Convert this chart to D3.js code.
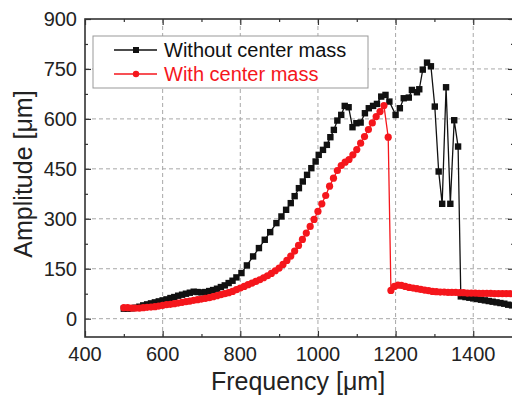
<!DOCTYPE html>
<html lang="en">
<head>
    <meta charset="UTF-8">
    <title>Amplitude vs Frequency</title>
    <script src="https://d3js.org/d3.v7.min.js"></script>
    <style>
        body { margin: 0; background: #fff; }
        svg { display: block; font-family: "Liberation Sans", Arial, sans-serif; }
        .grid line { stroke: #a8a8a8; stroke-dasharray: 4,3; stroke-width: 1; }
        .tick-label { font-size: 20px; fill: #222; }
        .title { font-size: 25px; fill: #222; }
    </style>
</head>
<body>
<svg width="512" height="401"></svg>
<script>
    // data
    const blackFreq = [500, 510, 520, 530, 540, 550, 560, 570, 580, 590, 600, 610, 620, 630, 640, 650, 660, 670, 680, 690,
        700, 710, 720, 730, 740, 750, 760, 770, 780, 790, 803, 817, 833, 848, 863, 877, 893, 906, 918, 930,
        940, 951, 961, 972, 983, 994, 1002, 1013, 1023, 1032, 1041, 1050, 1060, 1069, 1079, 1089, 1099, 1110, 1121, 1131,
        1142, 1152, 1163, 1174, 1184, 1200, 1211, 1221, 1234, 1242, 1255, 1261, 1270, 1281, 1291, 1301, 1311, 1320, 1330, 1341,
        1351, 1361, 1368, 1380, 1390, 1400, 1410, 1420, 1430, 1440, 1450, 1460, 1470, 1480, 1490, 1500];
    const blackAmp = [30, 30, 31, 33, 36, 40, 43, 46, 49, 52, 55, 58, 62, 65, 69, 72, 75, 78, 81, 80,
        79, 80, 83, 86, 90, 95, 100, 107, 114, 124, 137, 160, 187, 212, 237, 260, 287, 307, 327, 347,
        368, 392, 412, 432, 452, 472, 492, 507, 522, 545, 567, 595, 612, 639, 635, 575, 587, 589, 617, 632,
        639, 645, 667, 672, 652, 612, 632, 662, 664, 687, 680, 689, 748, 769, 758, 637, 442, 345, 695, 345,
        596, 517, 67, 65, 63, 61, 59, 57, 55, 53, 51, 49, 47, 45, 42, 40];

    const redFreq = [500, 510, 520, 530, 540, 550, 560, 570, 580, 590, 600, 610, 620, 630, 640, 650, 660, 670, 680, 690,
        700, 710, 720, 730, 740, 750, 760, 770, 780, 790, 800, 810, 820, 830, 840, 850, 860, 870, 880, 890,
        900, 910, 920, 930, 940, 950, 960, 970, 980, 990, 1000, 1010, 1020, 1030, 1040, 1050, 1060, 1070, 1080, 1090,
        1100, 1110, 1120, 1130, 1140, 1150, 1160, 1170, 1181, 1188, 1197, 1206, 1215, 1225, 1235, 1245, 1255, 1265, 1275, 1285,
        1295, 1305, 1315, 1325, 1335, 1345, 1355, 1365, 1375, 1385, 1395, 1405, 1415, 1425, 1435, 1445, 1455, 1465, 1475, 1485,
        1495, 1505];
    const redAmp = [33, 33, 32, 32, 32, 33, 34, 35, 36, 38, 40, 42, 43, 45, 47, 49, 51, 53, 55, 57,
        59, 61, 63, 66, 69, 72, 75, 78, 82, 87, 92, 97, 102, 107, 112, 117, 123, 129, 136, 144,
        152, 163, 175, 188, 203, 220, 238, 257, 277, 298, 322, 345, 370, 398, 422, 445, 460, 470, 478, 492,
        508, 527, 547, 568, 588, 607, 622, 640, 545, 85, 97, 101, 100, 97, 94, 92, 90, 88, 86, 84,
        82, 81, 80, 80, 79, 79, 79, 78, 78, 77, 77, 77, 76, 76, 76, 76, 75, 75, 75, 75,
        75, 74];

    const xTicks = [400, 600, 800, 1000, 1200, 1400];
    const yTicks = [0, 150, 300, 450, 600, 750, 900];
    const seriesNames = ["Without center mass", "With center mass"];

    const black = blackFreq.map((f, i) => ({ f: f, a: blackAmp[i] }));
    const red = redFreq.map((f, i) => ({ f: f, a: redAmp[i] }));

    const box = { left: 85, right: 514, top: 19, bottom: 337 };
    const redColor = "#f5161c";

    const x = d3.scaleLinear().domain([400, 1505]).range([box.left, box.right]);
    const y = d3.scaleLinear().domain([-55, 900]).range([box.bottom, box.top]);

    const svg = d3.select("svg");

    svg.append("clipPath").attr("id", "plot")
        .append("rect").attr("x", box.left).attr("y", box.top)
        .attr("width", box.right - box.left).attr("height", box.bottom - box.top);

    // dashed grid
    const grid = svg.append("g").attr("class", "grid");
    grid.selectAll(".gx").data(xTicks.filter(v => v > 400))
        .enter().append("line")
        .attr("x1", d => x(d)).attr("x2", d => x(d))
        .attr("y1", box.top).attr("y2", box.bottom);
    grid.selectAll(".gy").data(yTicks.filter(v => v < 900))
        .enter().append("line")
        .attr("x1", box.left).attr("x2", box.right)
        .attr("y1", d => y(d)).attr("y2", d => y(d));

    // axes, ticks pointing inwards on all four sides
    const xMinor = d3.range(500, 1500, 200);
    const yMinor = d3.range(-75, 900, 150).filter(v => v > -55);

    function axisPair(gen, scale, major, minor, pos) {
        svg.append("g").attr("transform", pos)
            .call(gen(scale).tickValues(major).tickSize(-6).tickFormat(""))
            .call(g => g.select(".domain").remove());
        svg.append("g").attr("transform", pos)
            .call(gen(scale).tickValues(minor).tickSize(-3).tickFormat(""))
            .call(g => g.select(".domain").remove());
    }
    axisPair(d3.axisBottom, x, xTicks, xMinor, `translate(0,${box.bottom})`);
    axisPair(d3.axisTop, x, xTicks, xMinor, `translate(0,${box.top})`);
    axisPair(d3.axisLeft, y, yTicks, yMinor, `translate(${box.left},0)`);
    axisPair(d3.axisRight, y, yTicks, yMinor, `translate(${box.right},0)`);
    svg.selectAll(".tick line").attr("stroke", "#333").attr("stroke-width", 1.2);

    svg.append("rect")
        .attr("x", box.left).attr("y", box.top)
        .attr("width", box.right - box.left).attr("height", box.bottom - box.top)
        .attr("fill", "none").attr("stroke", "#333").attr("stroke-width", 1.6);

    // tick labels
    svg.selectAll(".xl").data(xTicks).enter().append("text")
        .attr("class", "tick-label")
        .attr("x", d => x(d)).attr("y", 361)
        .attr("text-anchor", "middle")
        .text(d => d);
    svg.selectAll(".yl").data(yTicks).enter().append("text")
        .attr("class", "tick-label")
        .attr("x", 77).attr("y", d => y(d) + 7)
        .attr("text-anchor", "end")
        .text(d => d);

    // titles
    svg.append("text").attr("class", "title")
        .attr("x", 298).attr("y", 390)
        .attr("text-anchor", "middle")
        .text("Frequency [μm]");
    svg.append("text").attr("class", "title")
        .attr("transform", "translate(32,174) rotate(-90)")
        .attr("text-anchor", "middle")
        .text("Amplitude [μm]");

    // series
    const line = d3.line().x(d => x(d.f)).y(d => y(d.a));
    const plot = svg.append("g").attr("clip-path", "url(#plot)");

    plot.append("path").datum(black)
        .attr("d", line).attr("fill", "none")
        .attr("stroke", "#111").attr("stroke-width", 1.3);
    plot.selectAll(".sq").data(black).enter().append("rect")
        .attr("x", d => x(d.f) - 3.2).attr("y", d => y(d.a) - 3.2)
        .attr("width", 6.4).attr("height", 6.4)
        .attr("fill", "#111");

    plot.append("path").datum(red)
        .attr("d", line).attr("fill", "none")
        .attr("stroke", redColor).attr("stroke-width", 1.3);
    plot.selectAll(".ci").data(red).enter().append("circle")
        .attr("cx", d => x(d.f)).attr("cy", d => y(d.a))
        .attr("r", 3.6)
        .attr("fill", redColor);

    // legend
    const lg = svg.append("g");
    lg.append("rect")
        .attr("x", 93).attr("y", 36).attr("width", 275).attr("height", 52)
        .attr("fill", "#fff").attr("stroke", "#999").attr("stroke-width", 1);
    const rows = [
        { name: seriesNames[0], color: "#111", shape: "square", cy: 50 },
        { name: seriesNames[1], color: redColor, shape: "circle", cy: 74 }
    ];
    rows.forEach(r => {
        lg.append("line")
            .attr("x1", 114).attr("x2", 157).attr("y1", r.cy).attr("y2", r.cy)
            .attr("stroke", r.color).attr("stroke-width", 1.3);
        if (r.shape === "square") {
            lg.append("rect").attr("x", 133).attr("y", r.cy - 3)
                .attr("width", 6).attr("height", 6).attr("fill", r.color);
        } else {
            lg.append("circle").attr("cx", 136).attr("cy", r.cy)
                .attr("r", 3.2).attr("fill", r.color);
        }
        lg.append("text")
            .attr("x", 164).attr("y", r.cy + 7)
            .attr("font-size", 20)
            .attr("fill", r.color)
            .text(r.name);
    });
</script>
</body>
</html>
